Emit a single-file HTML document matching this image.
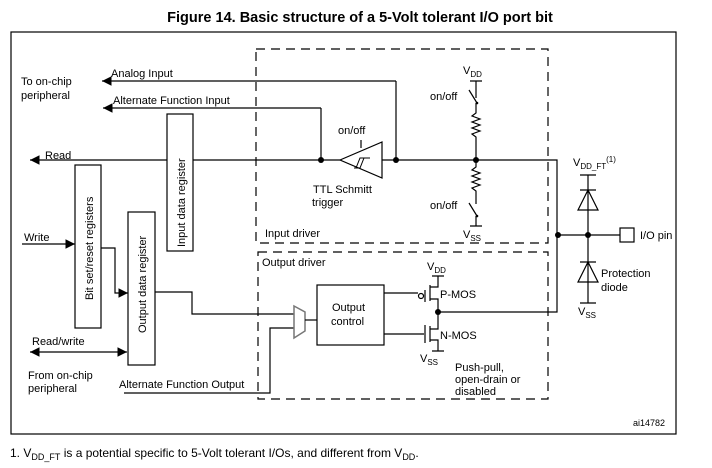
<!DOCTYPE html>
<html><head><style>body{margin:0;background:#fff}svg{display:block}text{font-family:"Liberation Sans",sans-serif;font-size:11px;fill:#000}</style></head><body>
<svg width="712" height="468" viewBox="0 0 712 468" xmlns="http://www.w3.org/2000/svg">
<defs><marker id="a" viewBox="0 0 10 10" refX="10" refY="5" markerWidth="8" markerHeight="8" orient="auto-start-reverse"><path d="M0,0L10,5L0,10z"/></marker></defs>
<text x="360" y="22" text-anchor="middle" style="font-size:14.5px;font-weight:bold">Figure 14. Basic structure of a 5-Volt tolerant I/O port bit</text>
<g fill="none" stroke="#000" stroke-width="1.2">
<rect x="11" y="32" width="665" height="402"/>
<g stroke-dasharray="9,6"><rect x="256" y="49" width="292" height="194"/><rect x="258" y="252" width="290" height="147"/></g>
<path d="M396,81H102" marker-end="url(#a)"/><path d="M396,81V160"/>
<path d="M321,108H103" marker-end="url(#a)"/><path d="M321,108V160"/>
<path d="M340,160H30" marker-end="url(#a)"/>
<path d="M382,160H557V235H620M557,235V312H438"/>
<path d="M340,160L382,142V178Z"/>
<path d="M354,168h6l4,-10h6M356,168l4,-10h6" stroke-width="1"/>
<path d="M361,148v-8" />
<rect x="167" y="114" width="26" height="137" fill="#fff"/>
<rect x="75" y="165" width="26" height="163" fill="#fff"/>
<rect x="128" y="212" width="27" height="153" fill="#fff"/>
<path d="M22,244H75" marker-end="url(#a)"/>
<path d="M101,248H115V293H128" marker-end="url(#a)"/>
<path d="M30,352H127" marker-start="url(#a)" marker-end="url(#a)"/>
<path d="M155,292H192V314H294"/>
<path d="M124,393H270V328H294"/>
<path d="M294,306L305,312V331L294,338Z" stroke="#777" stroke-width="1.5"/>
<path d="M305,320H317"/>
<rect x="317" y="285" width="67" height="60"/>
<path d="M384,293H418M384,334H424"/>
<circle cx="421" cy="296" r="2.5"/>
<path d="M425,290V302M430,285V301M430,326V342M425,325V343M430,287H438V276M430,299H438V312M430,329H438V312M430,340H438V351M432,276h12M432,351h12"/>
<path d="M476,81V98M470,81h12M469,90L477,103M476,103V113l-4,3 8,3-8,3 8,3-8,3 8,3-8,3 4,3V160"/>
<path d="M476,160V167l-4,3 8,3-8,3 8,3-8,3 8,3-8,3 4,3V204M469,203L477,216M476,216V226M470,226h12"/>
<path d="M588,175V235V303M580,175h16M580,190h16M588,190L578,210H598Z M580,262h16M588,262L578,282H598Z M580,303h16"/>
<rect x="620" y="228" width="14" height="14" fill="#fff"/>
</g>
<g fill="#000"><circle cx="321" cy="160" r="3"/><circle cx="396" cy="160" r="3"/><circle cx="476" cy="160" r="3"/><circle cx="558" cy="235" r="3"/><circle cx="588" cy="235" r="3"/><circle cx="438" cy="312" r="3"/><circle cx="477" cy="103" r="1.3"/><circle cx="477" cy="216" r="1.3"/></g>
<text x="21" y="85">To on-chip</text><text x="21" y="99">peripheral</text>
<text x="111" y="77">Analog Input</text>
<text x="113" y="104">Alternate Function Input</text>
<text x="45" y="159">Read</text>
<text x="24" y="241">Write</text>
<text x="32" y="345">Read/write</text>
<text x="28" y="379">From on-chip</text><text x="28" y="392">peripheral</text>
<text x="119" y="388">Alternate Function Output</text>
<text transform="translate(185,247) rotate(-90)">Input data register</text>
<text transform="translate(93,300) rotate(-90)">Bit set/reset registers</text>
<text transform="translate(146,333) rotate(-90)">Output data register</text>
<text x="338" y="134">on/off</text>
<text x="313" y="193">TTL Schmitt</text><text x="312" y="206">trigger</text>
<text x="265" y="237">Input driver</text>
<text x="262" y="266">Output driver</text>
<text x="332" y="311">Output</text><text x="331" y="325">control</text>
<text x="430" y="100">on/off</text><text x="430" y="209">on/off</text>
<text x="463" y="74">V<tspan dy="3" style="font-size:8px">DD</tspan></text>
<text x="463" y="238">V<tspan dy="3" style="font-size:8px">SS</tspan></text>
<text x="427" y="270">V<tspan dy="3" style="font-size:8px">DD</tspan></text>
<text x="420" y="362">V<tspan dy="3" style="font-size:8px">SS</tspan></text>
<text x="440" y="298">P-MOS</text><text x="440" y="339">N-MOS</text>
<text x="455" y="371">Push-pull,</text><text x="455" y="383">open-drain or</text><text x="455" y="395">disabled</text>
<text x="573" y="166">V<tspan dy="3" style="font-size:8px">DD_FT</tspan><tspan dy="-7" style="font-size:8px">(1)</tspan></text>
<text x="601" y="277">Protection</text><text x="601" y="291">diode</text>
<text x="578" y="315">V<tspan dy="3" style="font-size:8px">SS</tspan></text>
<text x="640" y="239">I/O pin</text>
<text x="633" y="426" style="font-size:9px">ai14782</text>
<text x="10" y="457" style="font-size:12px">1.   V<tspan dy="3" style="font-size:9px">DD_FT</tspan><tspan dy="-3"> is a potential specific to 5-Volt tolerant I/Os, and different from V</tspan><tspan dy="3" style="font-size:9px">DD</tspan><tspan dy="-3">.</tspan></text>
</svg>
</body></html>
